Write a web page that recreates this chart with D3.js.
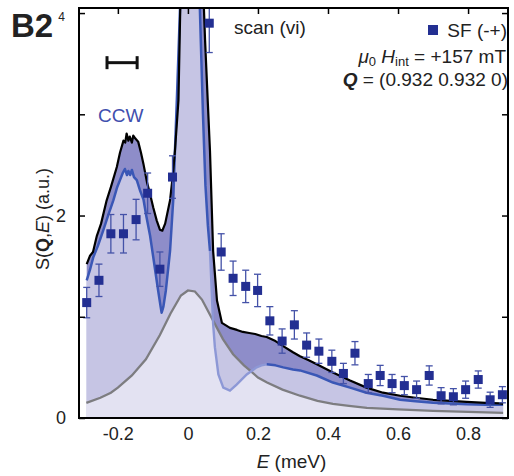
<!DOCTYPE html>
<html>
<head>
<meta charset="utf-8">
<script src="https://cdn.jsdelivr.net/npm/d3@7"></script>
<style>
  body { margin: 0; background: #fff; }
  text { font-family: "Liberation Sans", Arial, Helvetica, sans-serif; }
</style>
</head>
<body>
<div id="container"></div>
<script>
var w = 514,
    h = 476;

// x tick labels + y ticks
var xTicks = [-0.2, 0, 0.2, 0.4, 0.6, 0.8];
var yTicks = [0, 1, 2, 3, 4];
var yLabels = [0, 2, 4];

// SF (-+) data points: energy, intensity, error
var sfE   = [-0.289, -0.254, -0.220, -0.184, -0.148, -0.115, -0.080, -0.044, 0.061, 0.095,
             0.129, 0.165, 0.199, 0.234, 0.269, 0.304, 0.339, 0.374, 0.411, 0.444,
             0.477, 0.515, 0.549, 0.583, 0.618, 0.653, 0.689, 0.723, 0.758, 0.793,
             0.829, 0.863, 0.898];
var sfVal = [1.14, 1.36, 1.82, 1.82, 1.96, 2.22, 1.47, 2.38, 3.90, 1.64,
             1.38, 1.30, 1.26, 0.96, 0.76, 0.92, 0.72, 0.66, 0.56, 0.44,
             0.64, 0.34, 0.42, 0.34, 0.32, 0.28, 0.42, 0.22, 0.21, 0.28,
             0.38, 0.18, 0.23];
var sfErr = [0.15, 0.16, 0.19, 0.19, 0.20, 0.20, 0.17, 0.21, 0.29, 0.18,
             0.17, 0.16, 0.16, 0.14, 0.12, 0.14, 0.12, 0.12, 0.11, 0.10,
             0.115, 0.09, 0.10, 0.09, 0.09, 0.085, 0.095, 0.08, 0.08, 0.085,
             0.085, 0.075, 0.08];

// total calculated spectrum (black)
var totalCurve = [
  [-0.289, 1.52], [-0.280, 1.60], [-0.271, 1.64], [-0.260, 1.80], [-0.248, 1.92],
  [-0.232, 2.15], [-0.220, 2.28], [-0.203, 2.48], [-0.194, 2.62], [-0.184, 2.74],
  [-0.179, 2.72], [-0.175, 2.81], [-0.170, 2.74], [-0.166, 2.78], [-0.160, 2.72],
  [-0.156, 2.79], [-0.150, 2.76], [-0.142, 2.73], [-0.134, 2.62], [-0.127, 2.51],
  [-0.117, 2.33], [-0.108, 2.21], [-0.099, 2.08], [-0.089, 1.95], [-0.080, 1.86],
  [-0.073, 1.85], [-0.065, 1.92], [-0.051, 2.15], [-0.043, 2.40], [-0.037, 2.64],
  [-0.027, 3.14], [-0.021, 4.2], [-0.014, 6.0], [0.000, 9.0], [0.015, 8.0],
  [0.035, 5.5], [0.043, 4.3], [0.049, 3.73], [0.057, 3.10], [0.063, 2.64],
  [0.072, 1.65], [0.083, 1.16], [0.097, 0.94], [0.120, 0.89], [0.140, 0.87],
  [0.157, 0.85], [0.175, 0.84], [0.192, 0.83], [0.210, 0.81], [0.225, 0.80],
  [0.250, 0.76], [0.272, 0.71], [0.300, 0.65], [0.320, 0.61], [0.345, 0.57],
  [0.368, 0.53], [0.414, 0.45], [0.463, 0.37], [0.510, 0.30], [0.557, 0.25],
  [0.606, 0.22], [0.650, 0.20], [0.700, 0.18], [0.750, 0.17], [0.796, 0.16],
  [0.850, 0.15], [0.891, 0.145], [0.900, 0.14]
];

// CCW component (blue)
var ccwCurve = [
  [-0.289, 1.36], [-0.280, 1.46], [-0.270, 1.59], [-0.257, 1.70], [-0.242, 1.85],
  [-0.228, 2.00], [-0.213, 2.15], [-0.202, 2.28], [-0.194, 2.35], [-0.186, 2.42],
  [-0.180, 2.46], [-0.174, 2.40], [-0.170, 2.44], [-0.165, 2.40], [-0.160, 2.45],
  [-0.154, 2.38], [-0.146, 2.35], [-0.137, 2.25], [-0.127, 2.16], [-0.118, 1.98],
  [-0.108, 1.80], [-0.099, 1.59], [-0.091, 1.40], [-0.085, 1.26], [-0.078, 1.10],
  [-0.075, 1.04], [-0.070, 1.10], [-0.063, 1.26], [-0.051, 1.65], [-0.042, 2.15],
  [-0.037, 2.64], [-0.031, 3.2], [-0.025, 3.8], [-0.017, 4.6], [0.000, 8.0],
  [0.020, 6.0], [0.032, 4.3], [0.037, 3.7], [0.043, 3.0], [0.050, 2.3],
  [0.057, 1.9], [0.063, 1.65], [0.072, 0.93], [0.077, 0.70], [0.087, 0.43],
  [0.101, 0.30], [0.120, 0.27], [0.139, 0.33], [0.168, 0.43], [0.196, 0.50],
  [0.210, 0.52], [0.225, 0.53], [0.250, 0.52], [0.272, 0.50], [0.300, 0.48],
  [0.320, 0.47], [0.368, 0.42], [0.414, 0.35], [0.463, 0.30], [0.510, 0.25],
  [0.557, 0.22], [0.606, 0.18], [0.650, 0.165], [0.700, 0.15], [0.796, 0.135],
  [0.850, 0.132], [0.900, 0.13]
];
// part of the CCW curve drawn pale
var paleRange = [0.063, 0.225];

// quasi-elastic component (grey)
var qeCurve = [
  [-0.290, 0.15], [-0.250, 0.20], [-0.220, 0.25], [-0.200, 0.30], [-0.160, 0.42],
  [-0.120, 0.58], [-0.080, 0.82], [-0.050, 1.03], [-0.020, 1.21], [0.000, 1.26],
  [0.020, 1.25], [0.040, 1.17], [0.060, 1.04], [0.083, 0.89], [0.100, 0.78],
  [0.129, 0.63], [0.160, 0.52], [0.177, 0.47], [0.200, 0.40], [0.226, 0.35],
  [0.270, 0.28], [0.320, 0.22], [0.370, 0.17], [0.414, 0.14], [0.460, 0.12],
  [0.511, 0.10], [0.600, 0.085], [0.700, 0.07], [0.800, 0.06], [0.900, 0.05]
];

// instrument resolution bar (centre, full width, height)
var resCentre = -0.188, resWidth = 0.086, resLevel = 3.51;

var svg = d3.select('#container')
    .append('svg')
    .attr('width', w)
    .attr('height', h);

var frame = { l: 79, r: 508, t: 8, b: 418 };

var x = d3.scaleLinear().domain([-0.311, 0.914]).range([frame.l, frame.r]);
var y = d3.scaleLinear().domain([0, 4.05]).range([frame.b, frame.t]);

svg.append('clipPath').attr('id', 'plot')
  .append('rect')
    .attr('x', frame.l).attr('y', frame.t)
    .attr('width', frame.r - frame.l).attr('height', frame.b - frame.t);

var plot = svg.append('g').attr('clip-path', 'url(#plot)');

var area = d3.area()
    .x(function(d) { return x(d[0]); })
    .y0(y(0))
    .y1(function(d) { return y(d[1]); });
var line = d3.line()
    .x(function(d) { return x(d[0]); })
    .y(function(d) { return y(d[1]); });

// fills
plot.append('path').datum(totalCurve).attr('d', area).attr('fill', '#8e8dc9');
plot.append('path').datum(ccwCurve).attr('d', area).attr('fill', '#c6c5e4');
plot.append('path').datum(qeCurve).attr('d', area).attr('fill', '#ffffff').attr('fill-opacity', 0.5);

// lines
plot.append('path').datum(qeCurve).attr('d', line)
    .attr('fill', 'none').attr('stroke', '#7d7d80').attr('stroke-width', 2.3);

var ccwA = ccwCurve.filter(function(d) { return d[0] <= paleRange[0]; });
var ccwB = ccwCurve.filter(function(d) { return d[0] >= paleRange[0] && d[0] <= paleRange[1]; });
var ccwC = ccwCurve.filter(function(d) { return d[0] >= paleRange[1]; });

plot.append('path').datum(ccwB).attr('d', line)
    .attr('fill', 'none').attr('stroke', '#8d98d6').attr('stroke-width', 2.4);
[ccwA, ccwC].forEach(function(seg) {
  plot.append('path').datum(seg).attr('d', line)
      .attr('fill', 'none').attr('stroke', '#3a57b6').attr('stroke-width', 2.5)
      .attr('stroke-linejoin', 'round');
});

plot.append('path').datum(totalCurve).attr('d', line)
    .attr('fill', 'none').attr('stroke', '#000').attr('stroke-width', 2.2)
    .attr('stroke-linejoin', 'round');

// SF points with error bars
var pts = sfE.map(function(e, i) { return { e: e, v: sfVal[i], err: sfErr[i] }; });
var pg = plot.selectAll('.pt').data(pts).enter()
  .append('g').attr('class', 'pt');
pg.append('line')
    .attr('x1', function(d) { return x(d.e); })
    .attr('x2', function(d) { return x(d.e); })
    .attr('y1', function(d) { return y(d.v - d.err); })
    .attr('y2', function(d) { return y(d.v + d.err); })
    .attr('stroke', '#4452a8').attr('stroke-width', 1.3);
[-1, 1].forEach(function(s) {
  pg.append('line')
      .attr('x1', function(d) { return x(d.e) - 3.5; })
      .attr('x2', function(d) { return x(d.e) + 3.5; })
      .attr('y1', function(d) { return y(d.v + s * d.err); })
      .attr('y2', function(d) { return y(d.v + s * d.err); })
      .attr('stroke', '#4452a8').attr('stroke-width', 1.3);
});
pg.append('rect')
    .attr('x', function(d) { return x(d.e) - 4.5; })
    .attr('y', function(d) { return y(d.v) - 4.5; })
    .attr('width', 9).attr('height', 9)
    .attr('fill', '#232f92');

// axes
var ax = svg.append('g').attr('class', 'axes');
ax.append('g').attr('transform', 'translate(' + frame.l + ',0)')
    .call(d3.axisLeft(y).tickValues(yTicks).tickSizeInner(-6).tickSizeOuter(0).tickPadding(13)
      .tickFormat(function(d) { return yLabels.indexOf(d) >= 0 ? d : ''; }));
ax.append('g').attr('transform', 'translate(' + frame.r + ',0)')
    .call(d3.axisRight(y).tickValues(yTicks).tickSizeInner(-6).tickSizeOuter(0).tickFormat(''));
ax.append('g').attr('transform', 'translate(0,' + frame.t + ')')
    .call(d3.axisTop(x).tickValues(xTicks).tickSizeInner(-6).tickSizeOuter(0).tickFormat(''));
ax.append('g').attr('transform', 'translate(0,' + frame.b + ')')
    .call(d3.axisBottom(x).tickValues(xTicks).tickSizeInner(0).tickSizeOuter(0).tickPadding(9)
      .tickFormat(function(d) { return d === 0 ? '0' : String(d); }));
ax.selectAll('.domain').remove();
ax.selectAll('.tick line').attr('stroke', '#000').attr('stroke-width', 1.5);
ax.selectAll('.tick text')
    .style('font-family', '"Liberation Sans", Arial, sans-serif')
    .style('font-size', '18px').attr('fill', '#222');
// the "4" label sits small at the top corner
ax.selectAll('.tick text').filter(function(d) { return d === 4; })
    .style('font-size', '12px').attr('x', -14).attr('dy', '0.7em').attr('y', -1);

svg.append('rect')
    .attr('x', frame.l).attr('y', frame.t)
    .attr('width', frame.r - frame.l).attr('height', frame.b - frame.t)
    .attr('fill', 'none').attr('stroke', '#000').attr('stroke-width', 2);

// axis titles
svg.append('text')
    .attr('x', (frame.l + frame.r) / 2 - 2).attr('y', 468)
    .attr('text-anchor', 'middle').style('font-size', '19px').attr('fill', '#222')
    .call(function(t) {
      t.append('tspan').style('font-style', 'italic').text('E');
      t.append('tspan').text(' (meV)');
    });

svg.append('text')
    .attr('transform', 'translate(49,219) rotate(-90)')
    .attr('text-anchor', 'middle').style('font-size', '18px').attr('fill', '#222')
    .call(function(t) {
      t.append('tspan').text('S(');
      t.append('tspan').style('font-weight', 'bold').text('Q');
      t.append('tspan').text(',');
      t.append('tspan').style('font-style', 'italic').text('E');
      t.append('tspan').text(') (a.u.)');
    });

// panel label
svg.append('text').attr('x', 11).attr('y', 37)
    .style('font-size', '33px').style('font-weight', 'bold').attr('fill', '#222')
    .text('B2');

// resolution bar
var rb = svg.append('g').attr('stroke', '#111').attr('stroke-width', 3);
rb.append('line')
    .attr('x1', x(resCentre - resWidth / 2)).attr('x2', x(resCentre + resWidth / 2))
    .attr('y1', y(resLevel)).attr('y2', y(resLevel));
[-1, 1].forEach(function(s) {
  rb.append('line')
      .attr('x1', x(resCentre + s * resWidth / 2)).attr('x2', x(resCentre + s * resWidth / 2))
      .attr('y1', y(resLevel) - 6.5).attr('y2', y(resLevel) + 6.5);
});

svg.append('text').attr('x', 98).attr('y', 122)
    .style('font-size', '19px').attr('fill', '#3f4fae').text('CCW');

svg.append('text').attr('x', 234).attr('y', 34)
    .style('font-size', '19px').attr('fill', '#222').text('scan (vi)');

// legend
svg.append('rect').attr('x', 428).attr('y', 25).attr('width', 10).attr('height', 10)
    .attr('fill', '#232f92');
svg.append('text').attr('x', 507).attr('y', 37).attr('text-anchor', 'end')
    .style('font-size', '19px').attr('fill', '#222').text('SF (-+)');

svg.append('text').attr('x', 506).attr('y', 63).attr('text-anchor', 'end')
    .style('font-size', '19px').attr('fill', '#222')
    .call(function(t) {
      t.append('tspan').style('font-style', 'italic').text('\u03bc');
      t.append('tspan').attr('dy', 3).style('font-size', '13px').text('0');
      t.append('tspan').attr('dy', -3).text(' ');
      t.append('tspan').style('font-style', 'italic').text('H');
      t.append('tspan').attr('dy', 3).style('font-size', '13px').text('int');
      t.append('tspan').attr('dy', -3).text(' = +157 mT');
    });

svg.append('text').attr('x', 508).attr('y', 86).attr('text-anchor', 'end')
    .style('font-size', '19px').attr('fill', '#222')
    .call(function(t) {
      t.append('tspan').style('font-weight', 'bold').style('font-style', 'italic').text('Q');
      t.append('tspan').text(' = (0.932 0.932 0)');
    });
</script>
</body>
</html>
